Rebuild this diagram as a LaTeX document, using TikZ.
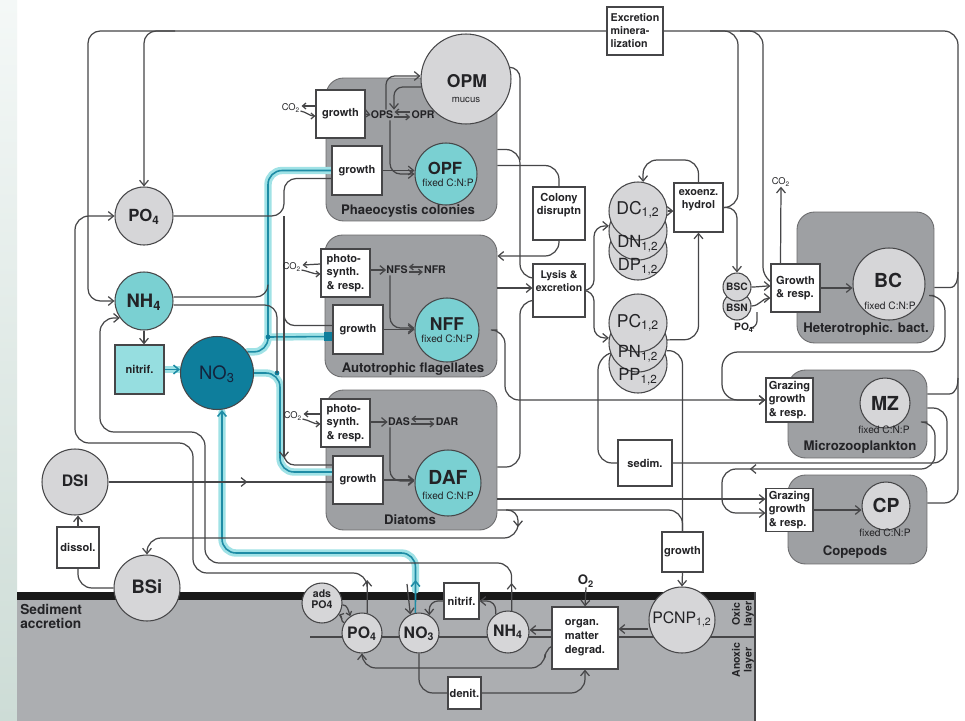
\documentclass[tikz,border=0pt]{standalone}
\usepackage{fontspec}
\setmainfont{TeX Gyre Heros}
\usetikzlibrary{arrows.meta,calc,decorations.markings}
\pgfdeclarelayer{bg}
\pgfdeclarelayer{mid}
\pgfsetlayers{bg,mid,main}
\definecolor{lc}{RGB}{70,70,72}
\definecolor{cgray}{RGB}{214,214,216}
\definecolor{contg}{RGB}{158,160,163}
\definecolor{tealf}{RGB}{122,208,210}
\definecolor{no3c}{RGB}{14,126,156}
\definecolor{nitc}{RGB}{150,222,224}
\definecolor{sedg}{RGB}{172,174,177}
\definecolor{glowc}{RGB}{160,226,230}
\definecolor{tcore}{RGB}{30,140,165}
\definecolor{txt}{RGB}{35,35,38}
\definecolor{navy}{RGB}{20,35,60}
\definecolor{bandt}{RGB}{244,248,247}
\definecolor{bandb}{RGB}{205,220,214}
\newcommand{\myfb}[1]{\fontsize{#1}{#1}\selectfont\bfseries}
\newcommand{\myfr}[1]{\fontsize{#1}{#1}\selectfont}
\newcommand{\myfbs}[2]{\fontsize{#1}{#2}\selectfont\bfseries}
\tikzset{
  ln/.style={draw=lc, line width=0.7pt},
  ah/.style={-{Straight Barb[length=3pt,width=5pt]}},
  ahs/.style={-{Straight Barb[length=2pt,width=3.4pt]}},
  midarr/.style={postaction={decorate}, decoration={markings, mark=at position #1 with {\arrow{Straight Barb[length=3pt,width=5pt]}}}},
  glow/.style={draw=glowc, line width=4.2pt, line cap=round, line join=round},
  tc/.style={draw=tcore, line width=0.9pt},
  bx/.style={draw=lc, line width=0.7pt, fill=white, inner sep=0pt, align=left, text=txt, font=\myfbs{6.3}{7.6}},
  circ/.style={circle, draw=lc, line width=0.6pt, fill=cgray, inner sep=0pt},
  tcirc/.style={circ, fill=tealf},
  cont/.style={draw=lc!80, line width=0.5pt, fill=contg, rounded corners=10pt, inner sep=0pt},
  clab/.style={font=\myfb{7.5}, text=txt, inner sep=0pt},
  tx/.style={inner sep=0pt, text=txt},
}
\begin{document}
\begin{tikzpicture}[x=0.02cm,y=-0.02cm]
\useasboundingbox (0,0) rectangle (965,721);
% ---------------- background
\begin{pgfonlayer}{bg}
\fill[white] (0,0) rectangle (965,721);
\shade[top color=bandt, bottom color=bandb] (0,0) rectangle (17,721);
\fill[sedg] (17,597) rectangle (755,721);
\fill[black!90] (17,592) rectangle (755,600);
\draw[lc, line width=0.8pt] (755,592) -- (755,721);
\node[cont, minimum width=3.42cm, minimum height=2.86cm] (phaeo) at (411.5,149.5) {};
\node[cont, minimum width=3.44cm, minimum height=2.84cm] (autof) at (411,306) {};
\node[cont, minimum width=3.42cm, minimum height=2.80cm] (diat) at (411.5,460) {};
\node[cont, minimum width=2.74cm, minimum height=2.62cm] (hbact) at (865.5,277.5) {};
\node[cont, minimum width=2.78cm, minimum height=1.76cm] (mzc) at (857.5,414) {};
\node[cont, minimum width=2.78cm, minimum height=1.78cm] (cpc) at (857.5,519.5) {};
\end{pgfonlayer}
% ---------------- boxes
\node[bx, minimum width=1.12cm, minimum height=0.96cm, font=\myfbs{6.1}{7.4}] (excr) at (635,31) {Excretion\\minera-\\lization};
\node[bx, minimum width=0.98cm, minimum height=0.96cm] (grPh) at (340.5,114) {growth};
\node[bx, minimum width=1.0cm, minimum height=0.98cm] (grOPF) at (357,170.5) {growth};
\node[bx, minimum width=1.04cm, minimum height=1.06cm] (colony) at (559,213.5) {};
\node[bx, minimum width=0.98cm, minimum height=0.96cm] (phNF) at (345.5,273) {photo-\\synth.\\\& resp.};
\node[bx, minimum width=1.0cm, minimum height=0.98cm] (grNF) at (358,329.5) {growth};
\node[bx, minimum width=1.04cm, minimum height=1.06cm] (lysis) at (559,290.5) {};
\node[bx, minimum width=0.98cm, minimum height=0.96cm] (phDA) at (345.5,423) {photo-\\synth.\\\& resp.};
\node[bx, minimum width=1.0cm, minimum height=0.96cm] (grDA) at (358,480) {growth};
\node[bx, minimum width=0.98cm, minimum height=0.98cm] (exo) at (698.5,207.5) {};
\node[bx, minimum width=0.98cm, minimum height=0.96cm] (grBC) at (795.5,288) {Growth\\\& resp.};
\node[bx, minimum width=0.94cm, minimum height=0.88cm] (grMZ) at (789.5,400) {Grazing\\growth\\\& resp.};
\node[bx, minimum width=0.94cm, minimum height=0.86cm] (grCP) at (789.5,510) {Grazing\\growth\\\& resp.};
\node[bx, minimum width=1.08cm, minimum height=0.92cm] (sedim) at (645,463) {sedim.};
\node[bx, minimum width=0.82cm, minimum height=0.80cm] (grPC) at (682.5,552) {growth};
\node[bx, minimum width=0.84cm, minimum height=0.82cm] (dissol) at (78,547.5) {dissol.};
\node[bx, fill=nitc, minimum width=0.98cm, minimum height=0.98cm] (nitrifW) at (139.5,369.5) {nitrif.};
\node[bx, minimum width=0.70cm, minimum height=0.72cm] (nitrifS) at (461.5,601) {nitrif.};
\node[bx, minimum width=0.66cm, minimum height=0.64cm] (denit) at (464.5,693) {denit.};
\node[bx, minimum width=1.32cm, minimum height=1.24cm, font=\myfbs{6.3}{8}] (organ) at (585,638) {organ.\\matter\\degrad.};
% ---------------- circles
\node[circ, minimum size=1.80cm] (OPM) at (466,79) {};
\node[tcirc, minimum size=1.24cm] (OPF) at (446,174) {};
\node[tcirc, minimum size=1.28cm] (NFF) at (447,330) {};
\node[tcirc, minimum size=1.32cm] (DAF) at (448,483) {};
\node[circ, minimum size=1.16cm] (PO4w) at (144,216) {};
\node[tcirc, minimum size=1.16cm] (NH4w) at (144,301) {};
\node[circ, fill=no3c, minimum size=1.46cm] (NO3w) at (217,373) {};
\node[circ, minimum size=1.32cm] (DSI) at (75,482) {};
\node[circ, minimum size=1.32cm] (BSi) at (147,588) {};
\node[circ, minimum size=1.16cm] (DP) at (638,251) {};
\node[circ, minimum size=1.16cm] (DN) at (638,231) {};
\node[circ, minimum size=1.16cm] (DC) at (638,211) {};
\node[circ, minimum size=1.16cm] (PP) at (638,364) {};
\node[circ, minimum size=1.16cm] (PN) at (638,343) {};
\node[circ, minimum size=1.16cm] (PC) at (638,323) {};
\node[circ, minimum size=0.56cm] (BSN) at (737,306) {};
\node[circ, minimum size=0.56cm] (BSC) at (737,287) {};
\node[circ, minimum size=1.44cm] (BC) at (889,284) {};
\node[circ, minimum size=1.0cm] (MZ) at (885,403) {};
\node[circ, minimum size=0.96cm] (CP) at (886,506) {};
\node[circ, minimum size=0.80cm] (ads) at (322,603) {};
\node[circ, minimum size=0.80cm] (PO4s) at (362,633) {};
\node[circ, minimum size=0.80cm] (NO3s) at (419,633) {};
\node[circ, minimum size=0.84cm] (NH4s) at (508,632) {};
\node[circ, minimum size=1.32cm] (PCNP) at (682,620) {};
% ---------------- texts
\node[tx, font=\myfb{10}] (tOPM) at (467,81) {OPM};
\node[tx, font=\myfr{5.5}] (tmuc) at (466,100) {mucus};
\node[tx, font=\myfb{9.5}] (tOPF) at (445,168) {OPF};
\node[tx, font=\myfr{5.8}] (fOPF) at (448,183) {fixed C:N:P};
\node[tx, font=\myfb{10}] (tNFF) at (447,324) {NFF};
\node[tx, font=\myfr{5.8}] (fNFF) at (447,339) {fixed C:N:P};
\node[tx, font=\myfb{11}] (tDAF) at (448,477) {DAF};
\node[tx, font=\myfr{5.8}] (fDAF) at (448,496) {fixed C:N:P};
\node[tx, font=\myfb{9.5}] (tPO4w) at (144,217) {PO\textsubscript{4}};
\node[tx, font=\myfb{10.5}] (tNH4w) at (144,302) {NH\textsubscript{4}};
\node[tx, font=\myfr{10.5}, text=navy] (tNO3w) at (217,374) {NO\textsubscript{3}};
\node[tx, font=\myfb{9}] (tDSI) at (75,481) {DSI};
\node[tx, font=\myfb{10.5}] (tBSi) at (147,587) {BSi};
\node[tx, font=\myfr{10}] (tDC) at (638,210) {DC\textsubscript{1,2}};
\node[tx, font=\myfr{9.5}] (tDN) at (638,244) {DN\textsubscript{1,2}};
\node[tx, font=\myfr{9.5}] (tDP) at (638,267) {DP\textsubscript{1,2}};
\node[tx, font=\myfr{10}] (tPC) at (638,323) {PC\textsubscript{1,2}};
\node[tx, font=\myfr{9.5}] (tPN) at (638,354) {PN\textsubscript{1,2}};
\node[tx, font=\myfr{9.5}] (tPP) at (638,377) {PP\textsubscript{1,2}};
\node[tx, font=\myfb{5.8}] (tBSC) at (737,287) {BSC};
\node[tx, font=\myfb{5.8}] (tBSN) at (737,308) {BSN};
\node[tx, font=\myfb{5.8}] (po4b) at (744,328) {PO\textsubscript{4}};
\node[tx, font=\myfb{11}] (tBC) at (888,280) {BC};
\node[tx, font=\myfr{5.8}] (fBC) at (890,306) {fixed C:N:P};
\node[tx, font=\myfb{11}] (tMZ) at (885,403) {MZ};
\node[tx, font=\myfr{5.8}] (fMZ) at (884,430) {fixed C:N:P};
\node[tx, font=\myfb{11}] (tCP) at (886,505) {CP};
\node[tx, font=\myfr{5.8}] (fCP) at (885,533) {fixed C:N:P};
\node[tx, font=\myfbs{6}{6.4}, align=center] (tads) at (322,599) {ads\\PO4};
\node[tx, font=\myfb{9}] (tPO4s) at (362,634) {PO\textsubscript{4}};
\node[tx, font=\myfb{9}] (tNO3s) at (419,634) {NO\textsubscript{3}};
\node[tx, font=\myfb{9}] (tNH4s) at (508,632) {NH\textsubscript{4}};
\node[tx, font=\myfr{9}] (tPCNP) at (682,619) {PCNP\textsubscript{1,2}};
\node[tx, font=\myfbs{6.3}{7.6}, align=center] (tcol) at (559,205) {Colony\\disruptn};
\node[tx, font=\myfbs{6}{7.2}, align=center] (tlys) at (559,281) {Lysis \&\\excretion};
\node[tx, font=\myfbs{6.2}{7.4}, align=center] (texo) at (698.5,200) {exoenz.\\hydrol};
\node[clab] (lphaeo) at (408,211) {Phaeocystis colonies};
\node[clab] (lautof) at (413,369) {Autotrophic flagellates};
\node[clab] (ldiat) at (410,520) {Diatoms};
\node[clab] (lhb) at (866,329) {Heterotrophic. bact.};
\node[clab] (lmz) at (860,447) {Microzooplankton};
\node[clab] (lcp) at (855,552) {Copepods};
\node[tx, font=\myfbs{7.8}{8.2}, align=left, anchor=north west] (tsed) at (20,604) {Sediment\\accretion};
\node[tx, font=\myfbs{6}{6.6}, rotate=90, align=center] (toxic) at (743,614) {Oxic\\layer};
\node[tx, font=\myfbs{6}{6.6}, rotate=90, align=center] (tanox) at (743,660) {Anoxic\\layer};
\node[tx, font=\myfb{7.5}] (o2) at (586,581) {O\textsubscript{2}};
\node[tx, font=\myfr{5.3}] (co2a) at (291,108) {CO\textsubscript{2}};
\node[tx, font=\myfr{5.3}] (co2b) at (292,267) {CO\textsubscript{2}};
\node[tx, font=\myfr{5.3}] (co2c) at (293,416) {CO\textsubscript{2}};
\node[tx, font=\myfr{5.3}] (co2d) at (781,182) {CO\textsubscript{2}};
\node[tx, font=\myfb{6}] (ops) at (382,115) {OPS};
\node[tx, font=\myfb{6}] (opr) at (423,115) {OPR};
\node[tx, font=\myfb{6}] (nfs) at (397,270) {NFS};
\node[tx, font=\myfb{6}] (nfr) at (435,270) {NFR};
\node[tx, font=\myfb{6}] (das) at (399,422) {DAS};
\node[tx, font=\myfb{6}] (dar) at (447,422) {DAR};
% ---------------- connectors
\begin{pgfonlayer}{mid}
\draw[lc, line width=0.8pt] (310,637) -- (755,637);
% teal highlighted nitrate paths
\draw[glow, rounded corners=8pt] (NO3w.35) -- (268,352) -- (268,170.5) -- (grOPF.west);
\draw[glow] (268,337) -- ($(grNF.west)+(0,7)$);
\draw[glow, rounded corners=8pt] (NO3w.east) -- (280,373) -- (280,472) -- ($(grDA.west)+(0,-8)$);
\draw[glow] (nitrifW.east) -- (NO3w.west |- nitrifW.east);
\draw[glow, rounded corners=8pt] (415.5,590) -- (415.5,553) -- (222,553) -- ($(NO3w.south)+(5,2)$);
\draw[tc, rounded corners=8pt] (NO3w.35) -- (268,352) -- (268,170.5) -- (grOPF.west);
\draw[tc] (268,337) -- ($(grNF.west)+(0,7)$);
\draw[tc, rounded corners=8pt] (NO3w.east) -- (280,373) -- (280,472) -- ($(grDA.west)+(0,-8)$);
\draw[tc, ah] (nitrifW.east) -- (NO3w.west |- nitrifW.east);
\draw[tc, ah] (NO3s.100) -- (415.5,580);
\draw[tc, ah, rounded corners=8pt] (415.5,582) -- (415.5,553) -- (222,553) -- ($(NO3w.south)+(5,0)$);
\fill[no3c] (268,337) circle (2.4);
\fill[no3c] (277,373) circle (2.4);
\fill[no3c] (324,332) rectangle (333,341);
% top bus
\draw[ln, ah, rounded corners=7pt] (excr.west) -- (88,31) -- (88,301) -- (NH4w.west);
\draw[ln, ah, rounded corners=7pt] (175,31) -- (144,31) -- (PO4w.north);
\draw[ln, rounded corners=8pt] (excr.east) -- (958,31) -- (958,503) -- ($(cpc.east)+(0,-16.5)$);
\draw[ln, rounded corners=8pt] (exo.east) -- (738,207.5) -- (738,31) -- (710,31);
\draw[ln, ah, rounded corners=6pt] (exo.east) -| (BSC.north);
\draw[ln, ah, rounded corners=8pt] (740,31) -- (763,31) -- (763,281) -- ($(grBC.west)+(0,-5)$);
\draw[ln, ah] (BSC.east) to[out=0,in=180] ($(grBC.west)+(0,-2)$);
\draw[ln, ah] (BSN.east) to[out=0,in=180] ($(grBC.west)+(0,10)$);
\draw[ln, rounded corners=4pt] (po4b.east) -- (757,328) -- (757,312);
\draw[ln, ah] ($(grBC.north)+(-15,0)$) -- (co2d.south);
\draw[ln, ah] (grBC.east) -- (BC.west |- grBC.east);
% right side
\draw[ln] ($(hbact.east)+(0,10)$) -- (950,287.5) to[out=0,in=-90] (958,272);
\draw[ln, ah, rounded corners=9pt] ($(hbact.east)+(0,18)$) -- (945,295.5) -- (945,352) -- (722,352) -- (722,400) -- (grMZ.west);
\draw[ln] ($(mzc.east)+(0,-20)$) -- (949,394) to[out=0,in=-90] (958,378);
\draw[ln, rounded corners=8pt] ($(mzc.east)+(0,-6)$) -- (947,408) -- (947,463) -- (sedim.east);
\draw[ln, ah, midarr=0.7, rounded corners=8pt] ($(mzc.east)+(0,8)$) -- (935,422) -- (935,469) -- (722,469) -- (722,513) -- ($(grCP.west)+(0,3)$);
\draw[ln, ah] (grCP.east) -- (CP.west |- grCP.east);
\draw[ln, ah, rounded corners=8pt] (sedim.west) -- (598,463) -- (598,356) -- (PN.-160);
% phytoplankton outputs
\draw[ln, ah, rounded corners=8pt] ($(autof.east)+(0,24)$) -- (505,330) -- (505,400) -- (grMZ.west);
\draw[ln, ah] ($(autof.east)+(0,-18)$) -- ($(lysis.west)+(0,-2.5)$);
\draw[ln, ah, rounded corners=8pt] (phaeo.east) -- (520,149.5) -- (520,278) -- ($(lysis.west)+(0,-12.5)$);
\draw[ln, rounded corners=6pt] (OPM.15) -- (520,67.4) -- (520,160);
\draw[ln, rounded corners=8pt] ($(phaeo.east)+(0,16)$) -| (colony.north);
\draw[ln, ah, rounded corners=8pt] (colony.south) |- ($(autof.east)+(0,-50)$);
\draw[ln, ah, rounded corners=8pt] ($(diat.east)+(0,7)$) -- (520,467) -- (520,300.5) -- ($(lysis.west)+(0,10)$);
\draw[ln, ah] ($(diat.east)+(0,39)$) -- ($(grCP.west)+(0,-11)$);
\draw[ln, rounded corners=8pt] ($(diat.east)+(0,50)$) -| (grPC.north);
\draw[ln, ah, rounded corners=6pt] (506,510) -| (518,527);
\draw[ln, ah, rounded corners=8pt] (518,524) |- (147,538) -- (BSi.north);
\draw[ln, rounded corners=8pt] (PN.-15) -| (grPC.north);
\draw[ln, ah] (grPC.south) -- (PCNP.north);
\draw[ln, ah] ($(PCNP.west)+(0,9)$) -- ($(organ.east)+(0,-9)$);
% detritus pools
\draw[ln, ah, rounded corners=6pt] (lysis.east) -- (594,290.5) -- (594,226) -- (DN.170);
\draw[ln, ah, rounded corners=6pt] (lysis.east) -- (594,290.5) -- (594,338) -- (PN.170);
\draw[ln, ah] (DC.east) -- (exo.west |- DC.east);
\draw[ln, ah, rounded corners=8pt] (exo.north) -- (698.5,160) -- (643,160) -- (DC.80);
\draw[ln, ah, rounded corners=8pt] (PC.-35) -- (698.5,339.6) -- (exo.south);
% nutrients from sediment
\draw[ln, ah] (PO4s.75) -- (367.2,580);
\draw[ln, ah, rounded corners=8pt] (367.2,582) -- (367.2,573) -- (193,573) -- (193,443) -- (75,443) -- (75,216) -- (PO4w.west);
\draw[ln, ah] (NH4s.80) -- (511.6,583);
\draw[ln, ah, rounded corners=8pt] (511.6,585) -- (511.6,563) -- (205,563) -- (205,432) -- (100,432) -- (100,318) -- (NH4w.-145);
\draw[ln, ah] (407,584) -- (NO3s.115);
% nutrient uptake
\draw[ln, ah] (NH4w.south) -- (NH4w.south |- nitrifW.north);
\draw[ln, rounded corners=7pt] (PO4w.east) -- (284,216) -- (284,178.5) -- ($(grOPF.west)+(0,8)$);
\draw[ln, ah] (284,216) -- (284,458);
\draw[ln, rounded corners=6pt] (284,455) -- (284,465) -- ($(grDA.west)+(0,-15)$);
\draw[ln, rounded corners=6pt] (284,316) -- (284,325.5) -- ($(grNF.west)+(0,-4)$);
\draw[ln, rounded corners=7pt] ($(NH4w.east)+(0,-4)$) -- (268,297) -- (268,285);
\draw[ln, rounded corners=7pt] ($(NH4w.east)+(0,4)$) -- (277,305) -- (277,373);
\draw[ln, midarr=0.62] (DSI.east) -- (grDA.west |- DSI.east);
% phaeocystis internals
\draw[ln, ahs] ($(grPh.west)+(0,-8)$) -- ($(co2a.east)+(1,-2)$);
\draw[ln, ahs] ($(co2a.east)+(0,3)$) to[out=-10,in=180] ($(grPh.west)+(0,2)$);
\draw[ln, ah] (grPh.east) -- (ops.west);
\draw[ln, ahs] ($(opr.west)+(-1,-3)$) -- ($(ops.east)+(1,-3)$);
\draw[ln, ahs] ($(ops.east)+(1,2)$) -- ($(opr.west)+(-1,2)$);
\draw[ln, ah, rounded corners=5pt] ($(ops.north)+(4,-1)$) -- (386,76) -- ($(OPM.west)+(0,-3)$);
\draw[ln, ah, rounded corners=5pt] ($(OPM.west)+(1,8)$) -- (394,87) -- ($(ops.north)+(12,-1)$);
\draw[ln, ah, rounded corners=6pt] ($(ops.south)+(8,1)$) |- (OPF.west);
\draw[ln, ah] (grOPF.east) -- (OPF.west |- grOPF.east);
% flagellate internals
\draw[ln, ahs] ($(phNF.west)+(0,-9)$) -- ($(co2b.east)+(1,-2)$);
\draw[ln, ahs] ($(co2b.east)+(0,3)$) to[out=-10,in=180] ($(phNF.west)+(0,1)$);
\draw[ln, ah] (phNF.east |- nfs.west) -- (nfs.west);
\draw[ln, ahs] ($(nfr.west)+(-1,-3)$) -- ($(nfs.east)+(1,-3)$);
\draw[ln, ahs] ($(nfs.east)+(1,2)$) -- ($(nfr.west)+(-1,2)$);
\draw[ln, ah, rounded corners=6pt] ($(nfs.south)+(-7,1)$) |- ($(NFF.west)+(0,-2)$);
\draw[ln, ah] (grNF.east) -- (NFF.west |- grNF.east);
% diatom internals
\draw[ln, ahs] ($(phDA.west)+(0,-9)$) -- ($(co2c.east)+(1,-2)$);
\draw[ln, ahs] ($(co2c.east)+(0,3)$) to[out=-10,in=180] ($(phDA.west)+(0,1)$);
\draw[ln, ah] (phDA.east |- das.west) -- (das.west);
\draw[ln, ahs] ($(dar.west)+(-1,-3)$) -- ($(das.east)+(1,-3)$);
\draw[ln, ahs] ($(das.east)+(1,2)$) -- ($(dar.west)+(-1,2)$);
\draw[ln, ah, rounded corners=6pt] ($(das.south)+(-9,1)$) |- ($(DAF.west)+(0,-2)$);
\draw[ln, ah] (grDA.east) -- (DAF.west |- grDA.east);
% silica
\draw[ln, rounded corners=8pt] (BSi.west) -| (dissol.south);
\draw[ln, ah] (dissol.north) -- (DSI.south -| dissol.north);
% sediment processes
\draw[ln, ah, rounded corners=5pt] (NH4s.125) |- (nitrifS.east);
\draw[ln, ah, rounded corners=5pt] (nitrifS.west) -| (NO3s.60);
\draw[ln, ahs] (ads.-5) to[out=0,in=110] (PO4s.125);
\draw[ln, ahs] (PO4s.150) to[out=170,in=-20] (ads.-35);
\draw[ln, ah] ($(organ.west)+(0,-8)$) -- ($(NH4s.east)+(0,-2)$);
\draw[ln, ah, rounded corners=8pt] ($(organ.west)+(0,6)$) -- (545,644) -- (545,668) -- (362,668) -- (PO4s.south);
\draw[ln, rounded corners=8pt] (NO3s.south) |- (denit.west);
\draw[ln, ah, rounded corners=8pt] (denit.east) -| (organ.south);
\draw[ln, ah] (o2.south) -- (organ.north);
\end{pgfonlayer}
\end{tikzpicture}
\end{document}
